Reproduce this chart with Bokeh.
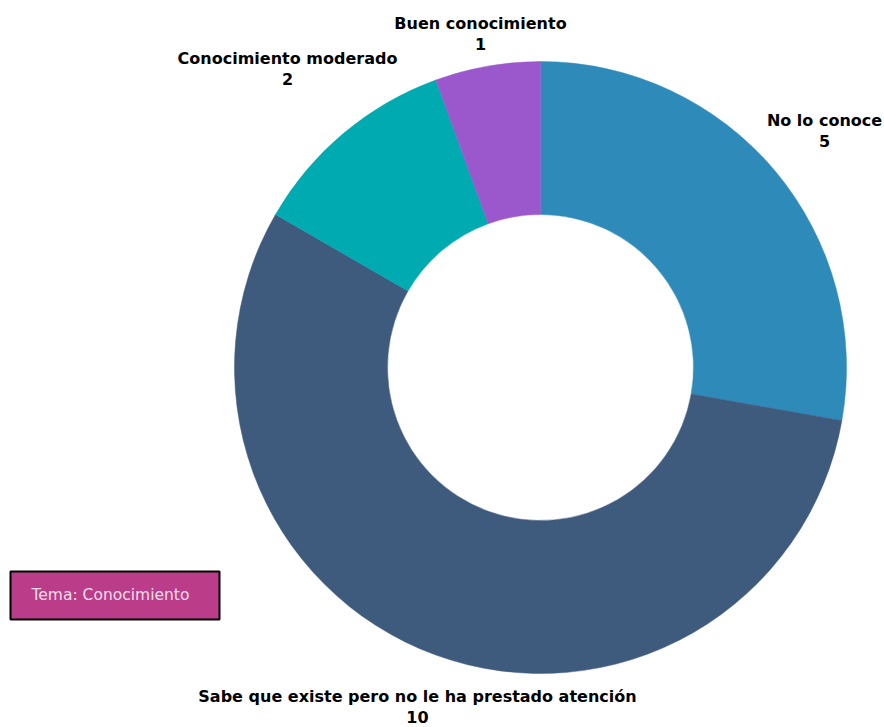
import numpy as np
from bokeh.plotting import figure
from bokeh.models import ColumnDataSource, Range1d
from bokeh.core.properties import value
from bokeh.embed import file_html
from bokeh.resources import INLINE

categories = ["No lo conoce", "Sabe que existe pero no le ha prestado atención",
              "Conocimiento moderado", "Buen conocimiento"]
counts = [5, 10, 2, 1]
colors = ["#2E8BB9", "#3E5A7C", "#00AAB1", "#9A58CC"]
# label anchor points (screen px: x, y for name line)
label_x = [824, 417, 287, 480]
label_y = [120, 696, 58, 23]

W, H = 884, 727
cx, cy = 540, 367
r_out, r_in = 306, 153

p = figure(width=W, height=H, output_backend="svg", toolbar_location=None,
           x_range=Range1d(0, W), y_range=Range1d(0, H), min_border=0)
p.axis.visible = False
p.grid.visible = False
p.outline_line_color = None
p.background_fill_color = "white"

total = sum(counts)
fr = np.array(counts) / total
ends_cum = np.cumsum(fr)
starts_cum = ends_cum - fr
start_ang = np.pi / 2 - starts_cum * 2 * np.pi
end_ang = np.pi / 2 - ends_cum * 2 * np.pi

src = ColumnDataSource(dict(start=start_ang, end=end_ang, color=colors))
p.annular_wedge(x=cx, y=H - cy, inner_radius=r_in, outer_radius=r_out,
                start_angle="start", end_angle="end", direction="clock",
                fill_color="color", line_color="color", line_width=0.5, source=src)

lsrc = ColumnDataSource(dict(x=label_x, y=[H - v for v in label_y],
                             y2=[H - v - 20 for v in label_y],
                             name=categories, val=[str(c) for c in counts]))
p.text(x="x", y="y", text="name", source=lsrc, text_align="center",
       text_baseline="middle", text_font=value("DejaVu Sans"), text_font_style="bold",
       text_font_size="16px", text_color="black")
p.text(x="x", y="y2", text="val", source=lsrc, text_align="center",
       text_baseline="middle", text_font=value("DejaVu Sans"), text_font_style="bold",
       text_font_size="16px", text_color="black")

# legend box
p.quad(left=[10], right=[219], bottom=[H - 619], top=[H - 571],
       fill_color="#BB3D89", line_color="black", line_width=2)
p.text(x=[31], y=[H - 594], text=["Tema: Conocimiento"], text_align="left",
       text_baseline="middle", text_font=value("DejaVu Sans"),
       text_font_size="15.5px", text_color="#F3DDEB")

open("out.html", "w").write(file_html(p, INLINE))
